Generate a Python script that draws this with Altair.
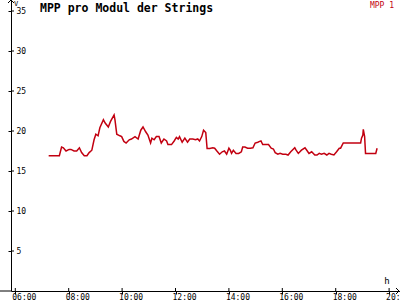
import altair as alt
import pandas as pd

times = ["07:15","07:39","07:44","07:48","07:54","08:01","08:05","08:12","08:18","08:24",
         "08:29","08:35","08:41","08:46","08:52","08:57","09:01","09:06","09:10","09:18",
         "09:22","09:29","09:34","09:42","09:44","09:48","09:55","09:59","10:04","10:09",
         "10:16","10:21","10:29","10:36","10:42","10:47","10:53","10:58","11:04","11:07",
         "11:12","11:17","11:23","11:28","11:34","11:40","11:43","11:51","11:57","12:02",
         "12:06","12:09","12:15","12:21","12:27","12:32","12:39","12:45","12:50","12:54",
         "12:59","13:03","13:08","13:11","13:17","13:24","13:28","13:33","13:39","13:45",
         "13:50","13:55","14:00","14:03","14:06","14:10","14:16","14:22","14:28","14:31",
         "14:36","14:42","14:48","14:54","14:59","15:05","15:09","15:12","15:16","15:21",
         "15:29","15:35","15:40","15:44","15:50","15:55","16:01","16:08","16:13","16:19",
         "16:28","16:31","16:36","16:43","16:51","16:55","17:00","17:06","17:13","17:18",
         "17:23","17:28","17:34","17:40","17:45","17:50","17:56","18:02","18:08","18:11",
         "18:17","18:56","18:58","19:01","19:02","19:05","19:07","19:30","19:33"]

values = [16.9,16.9,18.0,17.9,17.5,17.7,17.7,17.5,17.5,17.9,
          17.3,16.9,16.9,17.3,17.6,18.9,19.6,19.4,20.4,21.4,
          21.0,20.5,21.2,22.0,21.4,19.6,19.4,19.3,18.7,18.5,
          18.9,19.0,19.3,19.0,20.1,20.5,19.9,19.5,18.5,19.1,
          18.9,19.3,19.3,18.5,19.0,18.75,18.3,18.3,18.75,19.2,
          19.0,19.3,18.6,19.1,18.6,19.0,19.0,18.9,19.0,18.75,
          19.3,20.1,19.8,17.8,17.8,17.9,17.85,17.5,17.1,17.4,
          17.5,17.1,17.85,17.6,17.2,17.6,17.2,17.2,17.4,18.0,
          18.0,17.85,17.85,17.9,18.5,18.6,18.7,18.75,18.3,18.3,
          18.3,17.85,17.75,17.3,17.1,17.2,17.1,17.1,17.0,17.4,
          17.9,17.6,17.2,17.6,17.9,17.6,17.2,17.4,17.0,17.0,
          17.2,17.1,17.2,17.0,17.2,17.1,17.0,17.4,17.85,17.85,
          18.5,18.5,19.1,19.5,20.2,19.3,17.2,17.2,17.85]

x_ticks = [6, 8, 10, 12, 14, 16, 18, 20]
y_ticks = [5, 10, 15, 20, 25, 30, 35]
title_text = ["MPP pro Modul der Strings"]
legend_text = ["MPP 1"]
y_unit = ["V"]
x_unit = ["h"]

RED = "#c20010"
FONT = "DejaVu Sans Mono"

df = pd.DataFrame({"h": [int(t[:2]) + int(t[3:]) / 60 for t in times], "v": values})

x_scale = alt.Scale(domain=[5.839, 20.408], nice=False, zero=False)
y_scale = alt.Scale(domain=[0, 36.375], nice=False, zero=False)

x_axis = alt.Axis(values=x_ticks, labelExpr="format(datum.value,'02d')+':00'", title=None,
                  grid=False, tickSize=3, labelAlign="left", labelOffset=-3.5, labelPadding=-1,
                  labelBaseline="top", labelFont=FONT, labelFontSize=8, labelColor="#000",
                  domainColor="#000", tickColor="#000", labelFlush=False, labelOverlap=False)
y_axis = alt.Axis(values=y_ticks, title=None, grid=False, tickSize=3, labelAlign="left",
                  labelPadding=-8, labelBaseline="middle", labelFont=FONT, labelFontSize=8,
                  labelColor="#000", domainColor="#000", tickColor="#000", labelFlush=False,
                  labelOverlap=False)

line = alt.Chart(df).mark_line(color=RED, strokeWidth=1.5).encode(
    x=alt.X("h:Q", scale=x_scale, axis=x_axis),
    y=alt.Y("v:Q", scale=y_scale, axis=y_axis),
)

ytick_in = alt.Chart(pd.DataFrame({"v": y_ticks})).mark_rule(color="#000").encode(
    y=alt.Y("v:Q", scale=y_scale), x=alt.value(0), x2=alt.value(3))
xtick_in = alt.Chart(pd.DataFrame({"h": x_ticks})).mark_rule(color="#000").encode(
    x=alt.X("h:Q", scale=x_scale), y=alt.value(288), y2=alt.value(291))

def seg(x1, y1, x2, y2):
    return alt.Chart(pd.DataFrame({"a": [0]})).mark_rule(color="#000", strokeWidth=1).encode(
        x=alt.value(x1), y=alt.value(y1), x2=alt.value(x2), y2=alt.value(y2))

decor = [
    seg(-11, 291, 0, 291),
    seg(-3, 3, 0, 0), seg(0, 0, 3, 3),
    seg(385, 288, 388, 291), seg(388, 291, 385, 294),
]

def txt(lst, x, y, size, color="#000", bold=False, align="left"):
    return alt.Chart(pd.DataFrame({"t": lst})).mark_text(
        font=FONT, fontSize=size, fontWeight="bold" if bold else "normal", color=color,
        align=align, baseline="alphabetic").encode(
        text="t:N", x=alt.value(x), y=alt.value(y))

texts = [
    txt(title_text, 29, 12, 11.5, bold=True),
    txt(legend_text, 383, 8, 8, color=RED, align="right"),
    txt(y_unit, 3, 6, 7),
    txt(x_unit, 376, 284, 9, align="center"),
]

chart = alt.layer(line, ytick_in, xtick_in, *decor, *texts).properties(
    width=389, height=291,
    padding={"left": 11, "top": 0, "right": 0, "bottom": 9},
    autosize=alt.AutoSizeParams(type="none"),
    background="white",
).configure_view(stroke=None)

chart.save("out.html", embed_options={"renderer": "svg", "actions": False})
